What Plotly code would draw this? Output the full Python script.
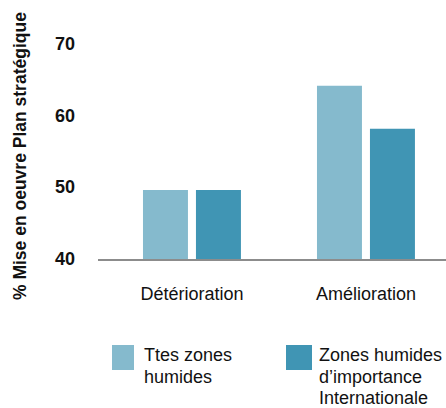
import plotly.graph_objects as go

# Données
categories = ["Détérioration", "Amélioration"]
series_names = ["Ttes zones humides", "Zones humides d’importance Internationale"]
legend_lines = [["Ttes zones", "humides"], ["Zones humides", "d’importance", "Internationale"]]
toutes_zones = [49.6, 64.1]
zones_ramsar = [49.6, 58.1]
y_ticks = [40, 50, 60, 70]
y_title = "% Mise en oeuvre Plan stratégique"

colors = ["#85BACD", "#4095B4"]
FONT = "Liberation Sans, Arial, sans-serif"
INK = "#111111"

W, H = 446, 408
ML, MR, MT, MB = 98, 0, 20, 149

fig = go.Figure()
for name, vals, col in zip(series_names, [toutes_zones, zones_ramsar], colors):
    fig.add_trace(go.Bar(x=categories, y=vals, name=name, marker=dict(color=col, line=dict(width=0)),
                         showlegend=False))

fig.update_layout(
    width=W, height=H,
    margin=dict(l=ML, r=MR, t=MT, b=MB),
    paper_bgcolor="white", plot_bgcolor="white",
    barmode="group", bargap=0.391, bargroupgap=0.151,
    font=dict(family=FONT, size=18, color=INK),
    xaxis=dict(
        type="category", range=[-0.54, 1.46], showline=True, linecolor="#8c8c8c", linewidth=1.5,
        showgrid=False, zeroline=False, ticks="", ticklabelstandoff=18,
        tickfont=dict(family=FONT, size=18, color=INK),
    ),
    yaxis=dict(
        range=[40, 73.24], tickvals=y_ticks, showline=False, showgrid=False, zeroline=False,
        ticks="", ticklabelstandoff=22,
        tickfont=dict(family=FONT, size=18, color=INK, weight="bold"),
    ),
)

def px_x(px):
    return (px - ML) / (W - ML - MR)

def px_y(py):
    return (H - MB - py) / (H - MT - MB)

# Titre de l'axe vertical
fig.add_annotation(xref="paper", yref="paper", x=px_x(20), y=px_y(156), xanchor="center",
                   yanchor="middle", textangle=-90, text=y_title, showarrow=False,
                   font=dict(family=FONT, size=17.5, color=INK, weight="bold"))

# Légende dessinée sous le graphique
swatches = [(112, 134), (286, 312)]
text_x = [142, 317]
line_y0, line_step = 355, 21.5
for (x0, x1), tx, col, lines in zip(swatches, text_x, colors, legend_lines):
    fig.add_shape(type="rect", xref="paper", yref="paper",
                  x0=px_x(x0), x1=px_x(x1), y0=px_y(370), y1=px_y(345),
                  fillcolor=col, line=dict(width=0))
    for i, ln in enumerate(lines):
        fig.add_annotation(xref="paper", yref="paper", x=px_x(tx), y=px_y(line_y0 + i * line_step),
                           xanchor="left", yanchor="middle", text=ln, showarrow=False,
                           font=dict(family=FONT, size=18, color=INK))

fig.write_html("out.html")
